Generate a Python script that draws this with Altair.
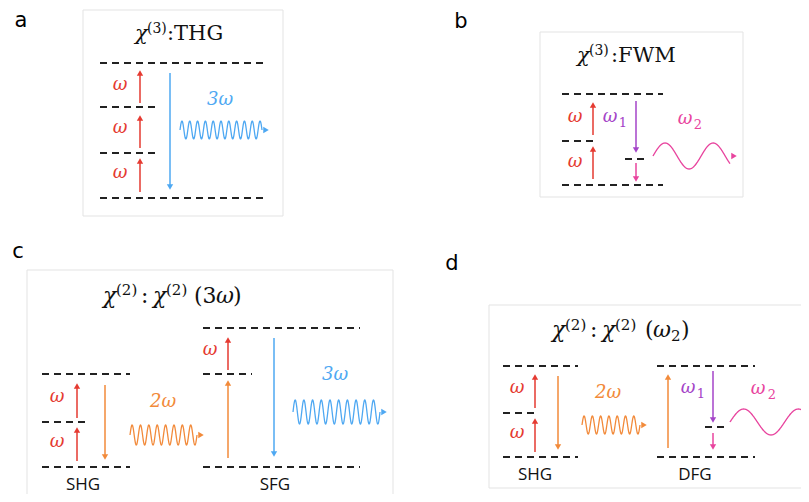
import numpy as np
import pandas as pd
import altair as alt

# ---------------- data (screen-pixel coordinates of the diagram) ----------------
RED = "#e53a31"; BLUE = "#4ea8f2"; ORANGE = "#f28a3a"; PURPLE = "#a444c8"; MAGENTA = "#e8449e"

# panel frames
box_x1 = [83, 540, 27, 489]
box_x2 = [283, 743, 393, 815]
box_y1 = [10, 32, 270, 305]
box_y2 = [216, 197, 506, 488]

# dashed energy levels
lvl_x1 = [100, 100, 100, 100, 562, 562, 625, 562, 42, 42, 42, 203, 203, 203, 503, 503, 503, 657, 705, 657]
lvl_x2 = [265, 155, 155, 265, 663, 597, 645, 663, 130, 85, 130, 360, 252, 360, 578, 535, 578, 755, 725, 755]
lvl_y = [63, 107, 153, 198, 94, 141, 159, 185, 374, 422, 467, 328, 374, 467, 366, 413, 457, 366, 427, 457]

# vertical transition arrows
arr_x = [140, 140, 140, 170, 593, 593, 636, 636, 77, 77, 105, 228, 228, 274, 535, 535, 558, 668, 713, 713]
arr_from = [103, 148, 192, 73, 135, 179, 101, 163, 418, 461, 385, 370, 458, 338, 408, 452, 376, 448, 371, 433]
arr_to = [70, 115, 158, 190, 102, 146, 153, 182, 383, 427, 460, 337, 380, 457, 374, 418, 450, 374, 423, 450]
arr_col = [RED, RED, RED, BLUE, RED, RED, PURPLE, MAGENTA, RED, RED, ORANGE, RED, ORANGE, BLUE,
           RED, RED, ORANGE, ORANGE, PURPLE, MAGENTA]

# emitted waves
wave_x0 = [180, 653, 130, 293, 582, 730]
wave_x1 = [262, 730, 197, 380, 640, 812]
wave_yc = [130, 156, 435, 412, 425, 422]
wave_amp = [9, 13, 10, 12, 9, 13]
wave_cycles = [10.5, 1.6, 8, 10, 7, 1.5]
wave_col = [BLUE, MAGENTA, ORANGE, BLUE, ORANGE, MAGENTA]

# panel letters (baseline positions)
lab_x = [21, 461, 18, 452]; lab_y = [27, 28, 258, 270]; lab_t = ["a", "b", "c", "d"]

# title pieces: text, left x, baseline y, size, italic
tp_t = ["χ", "(3)", ":THG",
        "χ", "(3)", ":FWM",
        "χ", "(2)", ":", "χ", "(2)", "(3", "ω", ")",
        "χ", "(2)", ":", "χ", "(2)", "(", "ω", "2", ")"]
tp_x = [135, 147, 167,
        577, 589, 611,
        103, 116, 141, 153, 166, 194, 216, 233,
        552, 565, 590, 602, 615, 645, 653, 671, 681]
tp_y = [40, 33, 40,
        62, 55, 62,
        303, 295, 303, 303, 295, 303, 303, 303,
        337, 330, 337, 337, 330, 337, 337, 341, 337]
tp_s = [21, 14, 21,
        21, 14, 21,
        22, 15, 22, 22, 15, 22, 22, 22,
        22, 15, 22, 22, 15, 22, 22, 15, 22]
tp_i = [1, 0, 0,
        1, 0, 0,
        1, 0, 0, 1, 0, 0, 1, 0,
        1, 0, 0, 1, 0, 0, 1, 0, 0]

# omega labels (centres) and their subscripts
om_x = [120, 120, 120, 220, 575, 575, 610, 685, 57, 57, 210, 163, 335, 517, 517, 608, 688, 758]
om_y = [85, 128, 173, 100, 117, 162, 117, 119, 397, 442, 350, 402, 375, 388, 433, 393, 388, 389]
om_t = ["ω", "ω", "ω", "3ω", "ω", "ω", "ω", "ω", "ω", "ω", "ω", "2ω", "3ω", "ω", "ω", "2ω", "ω", "ω"]
om_c = [RED, RED, RED, BLUE, RED, RED, PURPLE, MAGENTA, RED, RED, RED, ORANGE, BLUE, RED, RED, ORANGE, PURPLE, MAGENTA]
sub_x = [623, 698, 701, 772]
sub_y = [123, 125, 394, 395]
sub_t = ["1", "2", "1", "2"]
sub_c = [PURPLE, MAGENTA, PURPLE, MAGENTA]

pr_x = [83, 275, 535, 695]; pr_y = [485, 485, 475, 475]; pr_t = ["SHG", "SFG", "SHG", "DFG"]

# ---------------- build tables ----------------
XS = alt.Scale(domain=[8, 801], nice=False, zero=False)
YS = alt.Scale(domain=[8, 494], nice=False, zero=False, reverse=True)


def X(f):
    return alt.X(f, type="quantitative", scale=XS, axis=None)


def Y(f):
    return alt.Y(f, type="quantitative", scale=YS, axis=None)


boxes = pd.DataFrame({"x1": box_x1, "x2": box_x2, "y1": box_y1, "y2": box_y2})
levels = pd.DataFrame({"x1": lvl_x1, "x2": lvl_x2, "y": lvl_y})

shaft_rows, head_rows = [], []
for x, y0, y1, c in zip(arr_x, arr_from, arr_to, arr_col):
    up = y1 < y0
    hy = y1 + 3 if up else y1 - 3
    shaft_rows.append({"x": x, "y0": y0, "y1": hy, "c": c})
    head_rows.append({"x": x, "y": hy, "c": c, "s": "triangle-up" if up else "triangle-down"})

wave_rows = []
for i, (x0, x1, yc, a, n, c) in enumerate(zip(wave_x0, wave_x1, wave_yc, wave_amp, wave_cycles, wave_col)):
    t = np.linspace(0, 1, 400)
    for k, tt in enumerate(t):
        wave_rows.append({"w": i, "k": k, "x": x0 + (x1 - x0) * tt,
                          "y": yc - a * np.sin(2 * np.pi * n * tt), "c": c})
    head_rows.append({"x": x1 + 4, "y": yc, "c": c, "s": "triangle-right"})

shafts = pd.DataFrame(shaft_rows)
heads = pd.DataFrame(head_rows)
waves = pd.DataFrame(wave_rows)

labels = pd.DataFrame({"x": lab_x, "y": lab_y, "t": lab_t})
tparts = pd.DataFrame({"x": tp_x, "y": tp_y, "t": tp_t, "s": tp_s, "i": tp_i})
omegas = pd.DataFrame({"x": om_x, "y": om_y, "t": om_t, "c": om_c})
subs = pd.DataFrame({"x": sub_x, "y": sub_y, "t": sub_t, "c": sub_c})
procs = pd.DataFrame({"x": pr_x, "y": pr_y, "t": pr_t})

C = alt.Color("c:N", scale=None)
S = alt.Size("s:Q", scale=None)

frame_layer = alt.Chart(boxes).mark_rect(fill="white", stroke="#e3e3e3", strokeWidth=1).encode(
    x=X("x1"), x2="x2", y=Y("y1"), y2="y2")
level_layer = alt.Chart(levels).mark_rule(color="#222222", strokeWidth=2, strokeDash=[7, 5]).encode(
    x=X("x1"), x2="x2", y=Y("y"))
shaft_layer = alt.Chart(shafts).mark_rule(strokeWidth=1.5).encode(
    x=X("x"), y=Y("y0"), y2="y1", color=C)
wave_layer = alt.Chart(waves).mark_line(strokeWidth=1.3).encode(
    x=X("x"), y=Y("y"), detail="w:N", order="k:Q", color=C)
head_layer = alt.Chart(heads).mark_point(filled=True, opacity=1, size=40).encode(
    x=X("x"), y=Y("y"), color=C, shape=alt.Shape("s:N", scale=None))
label_layer = alt.Chart(labels).mark_text(font="DejaVu Sans", fontSize=21, color="black",
                                          baseline="alphabetic").encode(
    x=X("x"), y=Y("y"), text="t:N")
title_n = alt.Chart(tparts).transform_filter("datum.i == 0").mark_text(
    font="DejaVu Serif", color="#111111", align="left", baseline="alphabetic").encode(
    x=X("x"), y=Y("y"), text="t:N", size=S)
title_i = alt.Chart(tparts).transform_filter("datum.i == 1").mark_text(
    font="DejaVu Serif", fontStyle="italic", color="#111111", align="left", baseline="alphabetic").encode(
    x=X("x"), y=Y("y"), text="t:N", size=S)
omega_layer = alt.Chart(omegas).mark_text(font="DejaVu Serif", fontStyle="italic", fontSize=18).encode(
    x=X("x"), y=Y("y"), text="t:N", color=C)
sub_layer = alt.Chart(subs).mark_text(font="DejaVu Serif", fontSize=13).encode(
    x=X("x"), y=Y("y"), text="t:N", color=C)
proc_layer = alt.Chart(procs).mark_text(font="Open Sans", fontSize=17, color="#111111").encode(
    x=X("x"), y=Y("y"), text="t:N")

chart = alt.layer(frame_layer, level_layer, shaft_layer, wave_layer, head_layer,
                  label_layer, title_n, title_i, omega_layer, sub_layer, proc_layer).properties(
    width=793, height=486, padding=0, autosize="none", background="white"
).configure_view(stroke=None)

chart.save("out.html", embed_options={"renderer": "svg", "actions": False})
